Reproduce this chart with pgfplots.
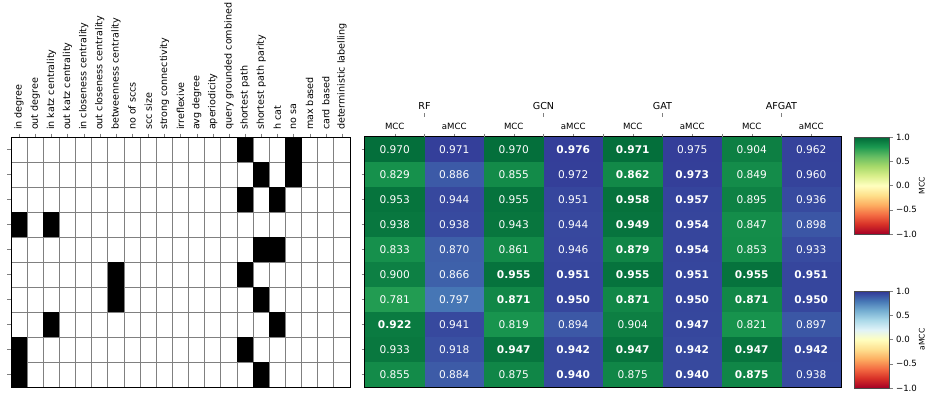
\documentclass[border=0pt]{standalone}
\usepackage{pgfplots}
\pgfplotsset{compat=1.18}
\usepackage{pgfplotstable}
\usepackage{fontspec}
\setmainfont{DejaVu Sans}
\newcommand{\fs}[1]{\fontsize{#1}{#1}\selectfont}

\pgfdeclareplotmark{cellL}{\pgfpathrectangle{\pgfpoint{-8.0714pt}{-12.5pt}}{\pgfpoint{16.1429pt}{25pt}}\pgfusepathqfill}
\pgfdeclareplotmark{cellH}{\pgfpathrectangle{\pgfpoint{-29.75pt}{-12.5pt}}{\pgfpoint{59.5pt}{25pt}}\pgfusepathqfill}

\pgfplotsset{
 colormap={RdYlGn}{rgb255=(165,0,38) rgb255=(215,48,39) rgb255=(244,109,67) rgb255=(253,174,97) rgb255=(254,224,139) rgb255=(255,255,191) rgb255=(217,239,139) rgb255=(166,217,106) rgb255=(102,189,99) rgb255=(26,152,80) rgb255=(0,104,55)},
 colormap={RdYlBu}{rgb255=(165,0,38) rgb255=(215,48,39) rgb255=(244,109,67) rgb255=(253,174,97) rgb255=(254,224,144) rgb255=(255,255,191) rgb255=(224,243,248) rgb255=(171,217,233) rgb255=(116,173,209) rgb255=(69,117,180) rgb255=(49,54,149)},
}

% heatmap: x = column, y = 9 - row, v = value, t = 0 MCC / 1 aMCC, b = bold
\pgfplotstableread{
x y v t b
0 0 0.855 0 0
1 0 0.884 1 0
2 0 0.875 0 0
3 0 0.940 1 1
4 0 0.875 0 0
5 0 0.940 1 1
6 0 0.875 0 1
7 0 0.938 1 0
0 1 0.933 0 0
1 1 0.918 1 0
2 1 0.947 0 1
3 1 0.942 1 1
4 1 0.947 0 1
5 1 0.942 1 1
6 1 0.947 0 1
7 1 0.942 1 1
0 2 0.922 0 1
1 2 0.941 1 0
2 2 0.819 0 0
3 2 0.894 1 0
4 2 0.904 0 0
5 2 0.947 1 1
6 2 0.821 0 0
7 2 0.897 1 0
0 3 0.781 0 0
1 3 0.797 1 0
2 3 0.871 0 1
3 3 0.950 1 1
4 3 0.871 0 1
5 3 0.950 1 1
6 3 0.871 0 1
7 3 0.950 1 1
0 4 0.900 0 0
1 4 0.866 1 0
2 4 0.955 0 1
3 4 0.951 1 1
4 4 0.955 0 1
5 4 0.951 1 1
6 4 0.955 0 1
7 4 0.951 1 1
0 5 0.833 0 0
1 5 0.870 1 0
2 5 0.861 0 0
3 5 0.946 1 0
4 5 0.879 0 1
5 5 0.954 1 1
6 5 0.853 0 0
7 5 0.933 1 0
0 6 0.938 0 0
1 6 0.938 1 0
2 6 0.943 0 0
3 6 0.944 1 0
4 6 0.949 0 1
5 6 0.954 1 1
6 6 0.847 0 0
7 6 0.898 1 0
0 7 0.953 0 0
1 7 0.944 1 0
2 7 0.955 0 0
3 7 0.951 1 0
4 7 0.958 0 1
5 7 0.957 1 1
6 7 0.895 0 0
7 7 0.936 1 0
0 8 0.829 0 0
1 8 0.886 1 0
2 8 0.855 0 0
3 8 0.972 1 0
4 8 0.862 0 1
5 8 0.973 1 1
6 8 0.849 0 0
7 8 0.960 1 0
0 9 0.970 0 0
1 9 0.971 1 0
2 9 0.970 0 0
3 9 0.976 1 1
4 9 0.971 0 1
5 9 0.975 1 0
6 9 0.904 0 0
7 9 0.962 1 0
}\hm

\begin{document}
\begin{tikzpicture}
\useasboundingbox (0pt,0pt) rectangle (928pt,397pt);

% ---------- left feature grid ----------
\begin{axis}[scale only axis, width=339pt, height=250pt, at={(11pt,10pt)}, anchor=south west,
 xmin=-0.5, xmax=20.5, ymin=-0.5, ymax=9.5,
 xtick={0,...,20},
 xticklabels={in degree,out degree,in katz centrality,out katz centrality,in closeness centrality,out closeness centrality,betweenness centrality,no of sccs,scc size,strong connectivity,irreflexive,avg degree,aperiodicity,query grounded combined,shortest path,shortest path parity,h cat,no sa,max based,card based,deterministic labelling},
 xtick pos=right, xticklabel pos=right,
 xticklabel style={rotate=90, anchor=west, font=\fs{9.6}},
 ytick={0,...,9}, yticklabels={}, ytick pos=left,
 minor xtick={0.5,1.5,...,19.5}, minor ytick={0.5,1.5,...,8.5},
 minor tick style={draw=none},
 grid=minor, minor grid style={gray, line width=0.8pt},
 tick align=outside, major tick length=3.5pt,
 axis on top, axis line style={black, line width=1pt}]
\addplot[only marks, mark=cellL, black] coordinates {
 (14,9) (17,9) (15,8) (17,8) (14,7) (16,7) (0,6) (2,6) (15,5) (16,5)
 (6,4) (14,4) (6,3) (15,3) (2,2) (16,2) (0,1) (14,1) (0,0) (15,0)};
\end{axis}

% ---------- heatmap ----------
\begin{axis}[scale only axis, width=476pt, height=250pt, at={(365pt,10pt)}, anchor=south west,
 xmin=-0.5, xmax=7.5, ymin=-0.5, ymax=9.5,
 point meta min=-1, point meta max=1,
 xtick={0,...,7}, xticklabels={MCC,aMCC,MCC,aMCC,MCC,aMCC,MCC,aMCC},
 extra x ticks={0.5,1.5,...,6.5}, extra x tick labels={},
 xtick pos=right, xticklabel pos=right, xticklabel style={font=\fs{8.6}},
 minor xtick={0.5,1.5,...,6.5},
 ytick={0,...,9}, yticklabels={}, ytick pos=left,
 minor ytick={0.5,1.5,...,8.5},
 minor tick style={draw=none},
 tick align=outside, major tick length=3.5pt,
 grid=minor, minor grid style={gray, line width=0.8pt},
 axis on top, axis line style={black, line width=1.2pt}]
\addplot[scatter, only marks, mark=cellH, colormap name=RdYlGn,
 scatter/use mapped color={draw=none, fill=mapped color},
 point meta=explicit, restrict expr to domain={\thisrow{t}}{0:0}]
 table[x=x, y=y, meta=v] {\hm};
\addplot[scatter, only marks, mark=cellH, colormap name=RdYlBu,
 scatter/use mapped color={draw=none, fill=mapped color},
 point meta=explicit, restrict expr to domain={\thisrow{t}}{1:1}]
 table[x=x, y=y, meta=v] {\hm};
\addplot[only marks, mark=none, point meta=explicit symbolic,
 nodes near coords, restrict expr to domain={\thisrow{b}}{0:0},
 every node near coord/.append style={font=\fs{10.6}, text=white, anchor=center}]
 table[x=x, y=y, meta=v] {\hm};
\addplot[only marks, mark=none, point meta=explicit symbolic,
 nodes near coords, restrict expr to domain={\thisrow{b}}{1:1},
 every node near coord/.append style={font=\fs{10.6}\bfseries, text=white, anchor=center}]
 table[x=x, y=y, meta=v] {\hm};
\end{axis}

% ---------- group labels ----------
\begin{axis}[scale only axis, width=476pt, height=10pt, at={(365pt,280pt)}, anchor=north west,
 xmin=-0.5, xmax=7.5, ymin=0, ymax=1,
 axis x line*=top, axis y line=none, x axis line style={draw=none},
 xtick={0.5,2.5,4.5,6.5}, xticklabels={RF,GCN,GAT,AFGAT},
 tick align=outside, major tick length=3.5pt,
 xticklabel style={font=\fs{9.6}}]
\addplot[draw=none] coordinates {(0,0)};
\end{axis}

% ---------- colorbar MCC ----------
\begin{axis}[scale only axis, width=35pt, height=97pt, at={(854pt,163pt)}, anchor=south west,
 xmin=0, xmax=1, ymin=-1, ymax=1, xtick=\empty,
 ytick={-1,-0.5,0,0.5,1}, yticklabels={−1.0,−0.5,0.0,0.5,1.0},
 ytick pos=right, yticklabel pos=right, tick align=outside, major tick length=3.5pt,
 yticklabel style={font=\fs{8.6}},
 axis line style={gray!60!black, line width=0.8pt},
 colormap name=RdYlGn, point meta min=-1, point meta max=1, axis on top,
 ylabel={MCC}, ylabel style={at={(axis description cs:1.75,0.5)}, anchor=north, font=\fs{7.7}}]
\addplot[patch, shader=interp, point meta=explicit] coordinates {
 (0,-1) [-1] (1,-1) [-1] (0,1) [1]
 (1,-1) [-1] (1,1) [1] (0,1) [1]};
\end{axis}

% ---------- colorbar aMCC ----------
\begin{axis}[scale only axis, width=35pt, height=97pt, at={(854pt,9pt)}, anchor=south west,
 xmin=0, xmax=1, ymin=-1, ymax=1, xtick=\empty,
 ytick={-1,-0.5,0,0.5,1}, yticklabels={−1.0,−0.5,0.0,0.5,1.0},
 ytick pos=right, yticklabel pos=right, tick align=outside, major tick length=3.5pt,
 yticklabel style={font=\fs{8.6}},
 axis line style={gray!60!black, line width=0.8pt},
 colormap name=RdYlBu, point meta min=-1, point meta max=1, axis on top,
 ylabel={aMCC}, ylabel style={at={(axis description cs:1.75,0.5)}, anchor=north, font=\fs{7.7}}]
\addplot[patch, shader=interp, point meta=explicit] coordinates {
 (0,-1) [-1] (1,-1) [-1] (0,1) [1]
 (1,-1) [-1] (1,1) [1] (0,1) [1]};
\end{axis}
\end{tikzpicture}
\end{document}
